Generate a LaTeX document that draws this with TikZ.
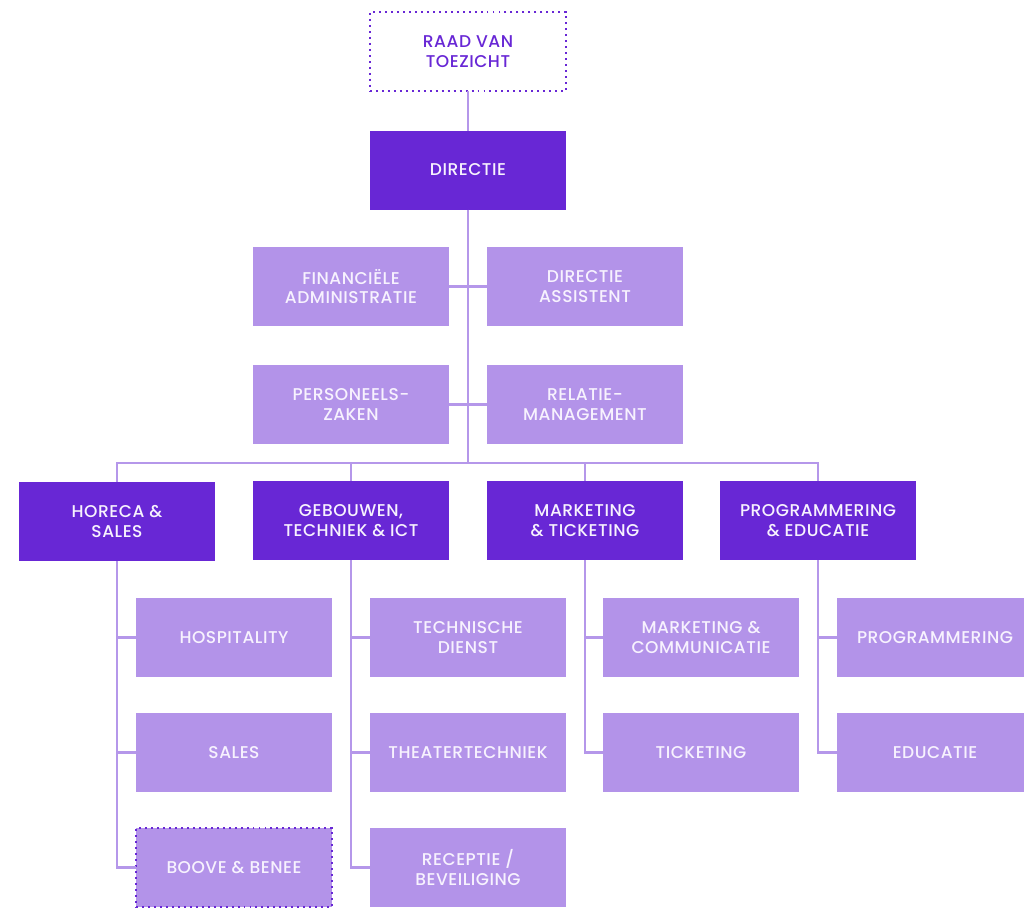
\documentclass[tikz,border=0pt]{standalone}
\usepackage{fontspec}
\setmainfont{Poppins Medium}[LetterSpace=3]
\definecolor{donker}{HTML}{6827D5}
\definecolor{licht}{HTML}{B393E9}
\definecolor{lijnkleur}{HTML}{B597EA}
\definecolor{tekst}{HTML}{F7F2FE}
\tikzset{
  blok/.style={minimum width=3.92cm, minimum height=1.58cm, inner sep=0pt, outer sep=0pt,
    align=center, text=tekst, font=\fontsize{9.7}{11.3}\selectfont},
  hoofd/.style={blok, fill=donker},
  afdeling/.style={blok, fill=licht},
  gestippeld/.style={draw=donker, line width=1.1pt, dash pattern=on 1.1pt off 2.3pt},
  lijn/.style={draw=lijnkleur, line width=1.2pt}
}
\begin{document}
\begin{tikzpicture}[x=0.02cm, y=-0.02cm]
	\useasboundingbox (0,0) rectangle (1024,907);

	% Top
	\node[blok, gestippeld, text=donker] (raad) at (468,51.5) {RAAD VAN\\TOEZICHT};
	\node[hoofd] (dir) at (468,170) {DIRECTIE};

	% Staf
	\node[afdeling] (fin) at (351,286.5) {FINANCIËLE\\ADMINISTRATIE};
	\node[afdeling] (dirass) at (585,286.5) {DIRECTIE\\ASSISTENT};
	\node[afdeling] (pers) at (351,404.5) {PERSONEELS-\\ZAKEN};
	\node[afdeling] (rel) at (585,404.5) {RELATIE-\\MANAGEMENT};

	% Afdelingen
	\node[hoofd] (horeca) at (117,521.5) {HORECA \&\\SALES};
	\node[hoofd] (geb) at (351,520.5) {GEBOUWEN,\\TECHNIEK \& ICT};
	\node[hoofd] (mkt) at (585,520.5) {MARKETING\\\& TICKETING};
	\node[hoofd] (prog) at (818,520.5) {PROGRAMMERING\\\& EDUCATIE};

	% Teams
	\node[afdeling] (hosp) at (234,637.5) {HOSPITALITY};
	\node[afdeling] (sales) at (234,752.5) {SALES};
	\node[afdeling, gestippeld] (boove) at (234,867.5) {BOOVE \& BENEE};
	\node[afdeling] (tech) at (468,637.5) {TECHNISCHE\\DIENST};
	\node[afdeling] (theater) at (468,752.5) {THEATERTECHNIEK};
	\node[afdeling] (recep) at (468,867.5) {RECEPTIE /\\BEVEILIGING};
	\node[afdeling] (mkcom) at (701,637.5) {MARKETING \&\\COMMUNICATIE};
	\node[afdeling] (tick) at (701,752.5) {TICKETING};
	\node[afdeling] (progr) at (935,637.5) {PROGRAMMERING};
	\node[afdeling] (edu) at (935,752.5) {EDUCATIE};

	% Lijnen
	\coordinate (bus) at (468,463);
	\draw[lijn] (raad) -- (dir);
	\draw[lijn] (dir) -- (bus);
	\draw[lijn] (fin.east) -- (dirass.west);
	\draw[lijn] (pers.east) -- (rel.west);
	\draw[lijn] (horeca.north) |- (bus) -| (prog.north);
	\foreach \n in {geb,mkt} {
	    \draw[lijn] (\n.north) -- (\n.north |- bus);
	}
	\foreach \ouder/\kind in {horeca/boove, geb/recep, mkt/tick, prog/edu} {
	    \draw[lijn] (\ouder.south) |- (\kind.west);
	}
	\foreach \ouder/\kind in {horeca/hosp, horeca/sales, geb/tech, geb/theater, mkt/mkcom, prog/progr} {
	    \draw[lijn] (\ouder.south |- \kind.west) -- (\kind.west);
	}
\end{tikzpicture}
\end{document}
